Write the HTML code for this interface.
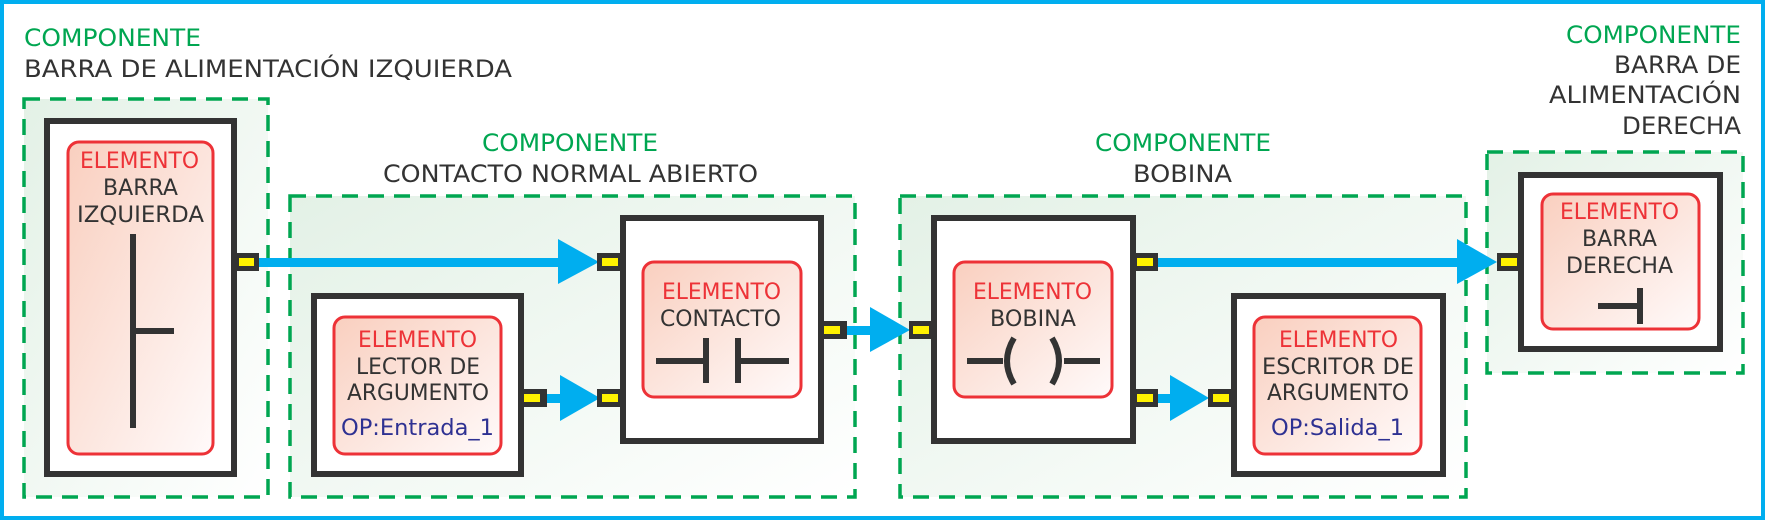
<!DOCTYPE html>
<html><head><meta charset="utf-8"><style>
html,body{margin:0;padding:0;background:#fff;}
svg{display:block;}
text{font-family:"DejaVu Sans","Liberation Sans",sans-serif;}
.g{fill:#00a651;font-size:24px;}
.k{fill:#333;font-size:24px;}
.r{fill:#ed3237;font-size:22px;}
.d{fill:#333;font-size:22px;}
.b{fill:#2e3192;font-size:22px;}
.dash{fill:url(#gg);stroke:#00a651;stroke-width:3.5;stroke-dasharray:16 10;}
.blk{fill:#fff;stroke:#333;stroke-width:6;}
.red{fill:url(#rg);stroke:#ed3237;stroke-width:3;}
.sym{stroke:#333;stroke-width:6;fill:none;}
</style></head><body>
<svg width="1767" height="522" viewBox="0 0 1767 522" xmlns="http://www.w3.org/2000/svg">
<defs>
<linearGradient id="gg" x1="0" y1="0" x2="1" y2="1"><stop offset="0" stop-color="#e3f1e6"/><stop offset="1" stop-color="#ffffff"/></linearGradient>
<linearGradient id="rg" x1="0" y1="0" x2="1" y2="1"><stop offset="0" stop-color="#f9cfbf"/><stop offset="1" stop-color="#fffafa"/></linearGradient>
</defs>
<rect x="2" y="2" width="1761" height="516" fill="#fff" stroke="#00aeef" stroke-width="4"/>

<!-- titles -->
<text class="g" x="24" y="46" textLength="177" lengthAdjust="spacingAndGlyphs">COMPONENTE</text>
<text class="k" x="24" y="77" textLength="488" lengthAdjust="spacingAndGlyphs">BARRA DE ALIMENTACIÓN IZQUIERDA</text>
<text class="g" x="482" y="151" textLength="176" lengthAdjust="spacingAndGlyphs">COMPONENTE</text>
<text class="k" x="383" y="182" textLength="375" lengthAdjust="spacingAndGlyphs">CONTACTO NORMAL ABIERTO</text>
<text class="g" x="1095" y="151" textLength="176" lengthAdjust="spacingAndGlyphs">COMPONENTE</text>
<text class="k" x="1133" y="182" textLength="99" lengthAdjust="spacingAndGlyphs">BOBINA</text>
<text class="g" x="1566" y="43" textLength="175" lengthAdjust="spacingAndGlyphs">COMPONENTE</text>
<text class="k" x="1614" y="73" textLength="127" lengthAdjust="spacingAndGlyphs">BARRA DE</text>
<text class="k" x="1549" y="103" textLength="192" lengthAdjust="spacingAndGlyphs">ALIMENTACIÓN</text>
<text class="k" x="1622" y="134" textLength="119" lengthAdjust="spacingAndGlyphs">DERECHA</text>

<!-- dashed components -->
<rect class="dash" x="24" y="99" width="244" height="398"/>
<rect class="dash" x="290" y="196" width="565" height="301"/>
<rect class="dash" x="900" y="196" width="566" height="301"/>
<rect class="dash" x="1487" y="152" width="256" height="221"/>

<!-- black boxes -->
<rect class="blk" x="47" y="121" width="187" height="353"/>
<rect class="blk" x="314" y="296" width="207" height="178"/>
<rect class="blk" x="623" y="218" width="198" height="223"/>
<rect class="blk" x="934" y="218" width="199" height="223"/>
<rect class="blk" x="1234" y="296" width="209" height="178"/>
<rect class="blk" x="1521" y="175" width="199" height="174"/>

<!-- red elements -->
<rect class="red" x="68" y="142" width="145" height="312" rx="11"/>
<rect class="red" x="334" y="317" width="167" height="137" rx="11"/>
<rect class="red" x="643" y="262" width="158" height="135" rx="11"/>
<rect class="red" x="954" y="262" width="158" height="135" rx="11"/>
<rect class="red" x="1254" y="317" width="167" height="137" rx="11"/>
<rect class="red" x="1542" y="194" width="157" height="135" rx="11"/>

<!-- element texts -->
<text class="r" x="80" y="168" textLength="119" lengthAdjust="spacingAndGlyphs">ELEMENTO</text>
<text class="d" x="103" y="195" textLength="75" lengthAdjust="spacingAndGlyphs">BARRA</text>
<text class="d" x="77" y="222" textLength="127" lengthAdjust="spacingAndGlyphs">IZQUIERDA</text>

<text class="r" x="358" y="347" textLength="119" lengthAdjust="spacingAndGlyphs">ELEMENTO</text>
<text class="d" x="356" y="374" textLength="124" lengthAdjust="spacingAndGlyphs">LECTOR DE</text>
<text class="d" x="347" y="400" textLength="142" lengthAdjust="spacingAndGlyphs">ARGUMENTO</text>
<text class="b" x="341" y="435" textLength="153" lengthAdjust="spacingAndGlyphs">OP:Entrada_1</text>

<text class="r" x="662" y="299" textLength="119" lengthAdjust="spacingAndGlyphs">ELEMENTO</text>
<text class="d" x="660" y="326" textLength="121" lengthAdjust="spacingAndGlyphs">CONTACTO</text>

<text class="r" x="973" y="299" textLength="119" lengthAdjust="spacingAndGlyphs">ELEMENTO</text>
<text class="d" x="990" y="326" textLength="86" lengthAdjust="spacingAndGlyphs">BOBINA</text>

<text class="r" x="1279" y="347" textLength="119" lengthAdjust="spacingAndGlyphs">ELEMENTO</text>
<text class="d" x="1262" y="374" textLength="152" lengthAdjust="spacingAndGlyphs">ESCRITOR DE</text>
<text class="d" x="1267" y="400" textLength="142" lengthAdjust="spacingAndGlyphs">ARGUMENTO</text>
<text class="b" x="1271" y="435" textLength="133" lengthAdjust="spacingAndGlyphs">OP:Salida_1</text>

<text class="r" x="1560" y="219" textLength="119" lengthAdjust="spacingAndGlyphs">ELEMENTO</text>
<text class="d" x="1582" y="246" textLength="75" lengthAdjust="spacingAndGlyphs">BARRA</text>
<text class="d" x="1566" y="273" textLength="107" lengthAdjust="spacingAndGlyphs">DERECHA</text>

<!-- symbols -->
<path class="sym" d="M133 234V428M133 331H174"/>
<path class="sym" d="M656 361H706M706 338V383M738 338V383M738 361H789"/>
<path class="sym" d="M967 361H1003M1064 361H1100"/>
<path d="M1014 338 Q1000 361 1014 384" stroke="#333" stroke-width="6" fill="none"/>
<path d="M1052 338 Q1066 361 1052 384" stroke="#333" stroke-width="6" fill="none"/>
<path class="sym" d="M1598 306H1640M1640 288V324"/>

<!-- connectors -->
<g fill="#00aeef" stroke="none">
<rect x="259" y="258" width="300" height="9"/>
<polygon points="558,239 599,262 558,284"/>
<rect x="547" y="394" width="14" height="9"/>
<polygon points="560,375 600,398 560,421"/>
<rect x="847" y="326" width="24" height="9"/>
<polygon points="870,307 910,330 870,352"/>
<rect x="1158" y="258" width="300" height="9"/>
<polygon points="1457,239 1497,262 1457,284"/>
<rect x="1158" y="394" width="14" height="9"/>
<polygon points="1170,375 1209,398 1170,421"/>
</g>

<!-- ports -->
<g>
<rect x="237" y="253" width="22" height="18" fill="#333"/><rect x="239" y="258" width="15" height="8" fill="#fff200"/>
<rect x="520" y="389" width="27" height="18" fill="#333"/><rect x="524" y="394" width="16" height="8" fill="#fff200"/>
<rect x="597" y="253" width="26" height="18" fill="#333"/><rect x="602" y="258" width="16" height="8" fill="#fff200"/>
<rect x="597" y="389" width="26" height="18" fill="#333"/><rect x="602" y="394" width="16" height="8" fill="#fff200"/>
<rect x="820" y="321" width="27" height="18" fill="#333"/><rect x="824" y="326" width="16" height="8" fill="#fff200"/>
<rect x="909" y="321" width="25" height="18" fill="#333"/><rect x="913" y="326" width="16" height="8" fill="#fff200"/>
<rect x="1133" y="253" width="25" height="18" fill="#333"/><rect x="1137" y="258" width="16" height="8" fill="#fff200"/>
<rect x="1133" y="389" width="25" height="18" fill="#333"/><rect x="1137" y="394" width="16" height="8" fill="#fff200"/>
<rect x="1208" y="389" width="26" height="18" fill="#333"/><rect x="1213" y="394" width="16" height="8" fill="#fff200"/>
<rect x="1497" y="253" width="24" height="18" fill="#333"/><rect x="1501" y="258" width="16" height="8" fill="#fff200"/>
</g>
</svg>
</body></html>
